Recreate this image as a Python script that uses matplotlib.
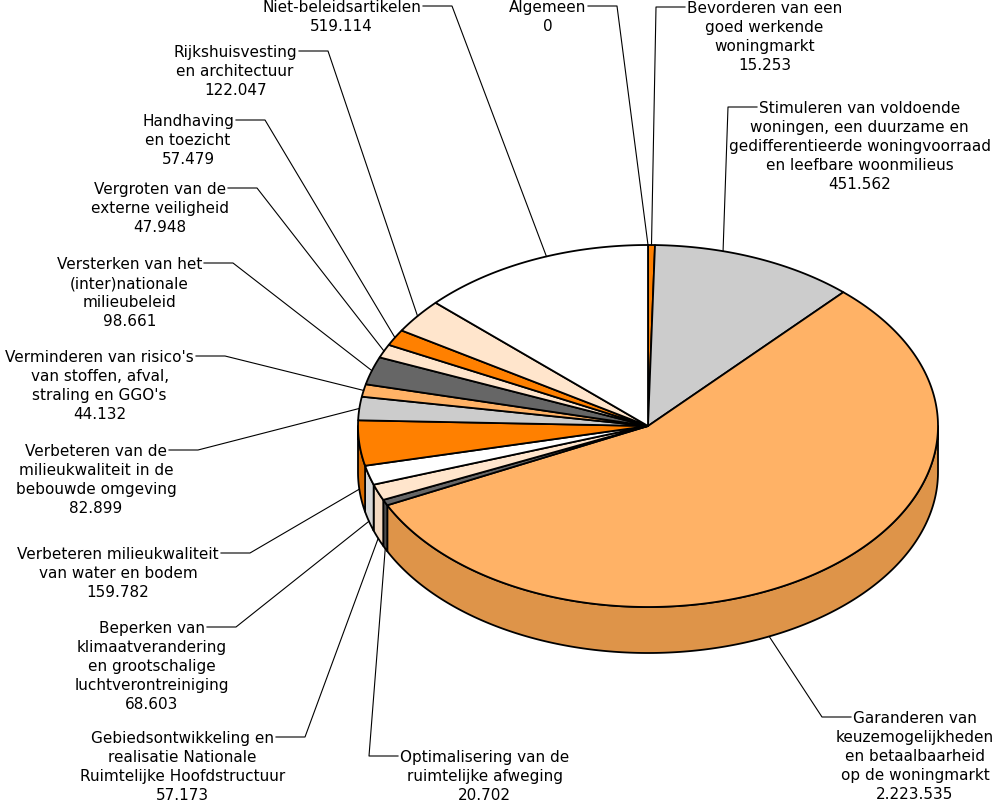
import numpy as np
import matplotlib
matplotlib.use('Agg')
import matplotlib.pyplot as plt
from matplotlib.patches import Polygon

categories = [
    'Algemeen',
    'Bevorderen van een\ngoed werkende\nwoningmarkt',
    'Stimuleren van voldoende\nwoningen, een duurzame en\ngedifferentieerde woningvoorraad\nen leefbare woonmilieus',
    'Garanderen van\nkeuzemogelijkheden\nen betaalbaarheid\nop de woningmarkt',
    'Optimalisering van de\nruimtelijke afweging',
    'Gebiedsontwikkeling en\nrealisatie Nationale\nRuimtelijke Hoofdstructuur',
    'Beperken van\nklimaatverandering\nen grootschalige\nluchtverontreiniging',
    'Verbeteren milieukwaliteit\nvan water en bodem',
    'Verbeteren van de\nmilieukwaliteit in de\nbebouwde omgeving',
    "Verminderen van risico's\nvan stoffen, afval,\nstraling en GGO's",
    'Versterken van het\n(inter)nationale\nmilieubeleid',
    'Vergroten van de\nexterne veiligheid',
    'Handhaving\nen toezicht',
    'Rijkshuisvesting\nen architectuur',
    'Niet-beleidsartikelen',
]
values = [0, 15253, 451562, 2223535, 20702, 57173, 68603, 159782,
          82899, 44132, 98661, 47948, 57479, 122047, 519114]

colors = ['#FFFFFF', '#FF8000', '#CCCCCC', '#FFB266', '#666666', '#FFE5CC',
          '#FFFFFF', '#FF8000', '#CCCCCC', '#FFB266', '#666666', '#FFE5CC',
          '#FF8000', '#FFE5CC', '#FFFFFF']
side_colors = {'#FF8000': '#D96C00', '#CCCCCC': '#B0B0B0', '#FFB266': '#DE9449',
               '#666666': '#4D4D4D', '#FFE5CC': '#F2D8C0', '#FFFFFF': '#D6D6D6'}

# label layout: which side the text sits on, where the leader bends
label_side = ['L', 'R', 'R', 'R', 'R', 'L', 'L', 'L', 'L', 'L', 'L', 'L', 'L', 'L', 'L']
bends = [(617, 7), (656, 8), (728, 108), (822, 718), (369, 757), (305, 738),
         (236, 628), (250, 554), (198, 451), (225, 357), (233, 264),
         (257, 189), (265, 121), (328, 52), (452, 7)]
anchor_override = {2: 15.0, 3: 155.3, 14: 339.5}

cx, cy, rx, ry, depth = 648, 427, 290, 181, 46


def pt(s):
    t = np.radians(90 - np.asarray(s))
    return cx + rx * np.cos(t), cy - ry * np.sin(t)


total = sum(values)
bounds = np.concatenate([[0], np.cumsum(values)]) / total * 360

fig = plt.figure(figsize=(9.95, 8.04), dpi=100)
ax = fig.add_axes([0, 0, 1, 1])
ax.set_xlim(0, 995)
ax.set_ylim(804, 0)
ax.axis('off')

# side walls (front half only)
for i in range(len(values)):
    a = max(bounds[i], 90)
    b = min(bounds[i + 1], 270)
    if b <= a:
        continue
    ss = np.linspace(a, b, 200)
    x, y = pt(ss)
    px = np.concatenate([x, x[::-1]])
    py = np.concatenate([y, (y + depth)[::-1]])
    ax.add_patch(Polygon(np.column_stack([px, py]), closed=True,
                         fc=side_colors[colors[i]], ec='black', lw=1.3,
                         joinstyle='round'))

# top face
for i in range(len(values)):
    if values[i] == 0:
        continue
    ss = np.linspace(bounds[i], bounds[i + 1], max(int((bounds[i + 1] - bounds[i]) * 3), 4))
    x, y = pt(ss)
    px = np.concatenate([[cx], x])
    py = np.concatenate([[cy], y])
    ax.add_patch(Polygon(np.column_stack([px, py]), closed=True,
                         fc=colors[i], ec='black', lw=1.3, joinstyle='round'))

renderer = fig.canvas.get_renderer()
fs = 11
step = 19.1

for i in range(len(values)):
    mid = anchor_override.get(i, (bounds[i] + bounds[i + 1]) / 2)
    x0, y0 = pt(mid)
    if 90 < mid < 270:
        y0 = y0 + depth
    bx, by = bends[i]
    ex = bx - 29 if label_side[i] == 'L' else bx + 29
    ax.plot([x0, bx, ex], [y0, by, by], color='black', lw=0.8)

    lines = categories[i].split('\n') + [f'{values[i]:,}'.replace(',', '.')]
    if label_side[i] == 'L':
        t = ax.text(ex - 2, by + 5, lines[0], ha='right', va='baseline', fontsize=fs)
        w = t.get_window_extent(renderer).width
        tc = ex - 2 - w / 2
    else:
        t = ax.text(ex + 2, by + 5, lines[0], ha='left', va='baseline', fontsize=fs)
        w = t.get_window_extent(renderer).width
        tc = ex + 2 + w / 2
    for k, line in enumerate(lines[1:], start=1):
        ax.text(tc, by + 5 + k * step, line, ha='center', va='baseline', fontsize=fs)

fig.savefig('out.png', dpi=100)
